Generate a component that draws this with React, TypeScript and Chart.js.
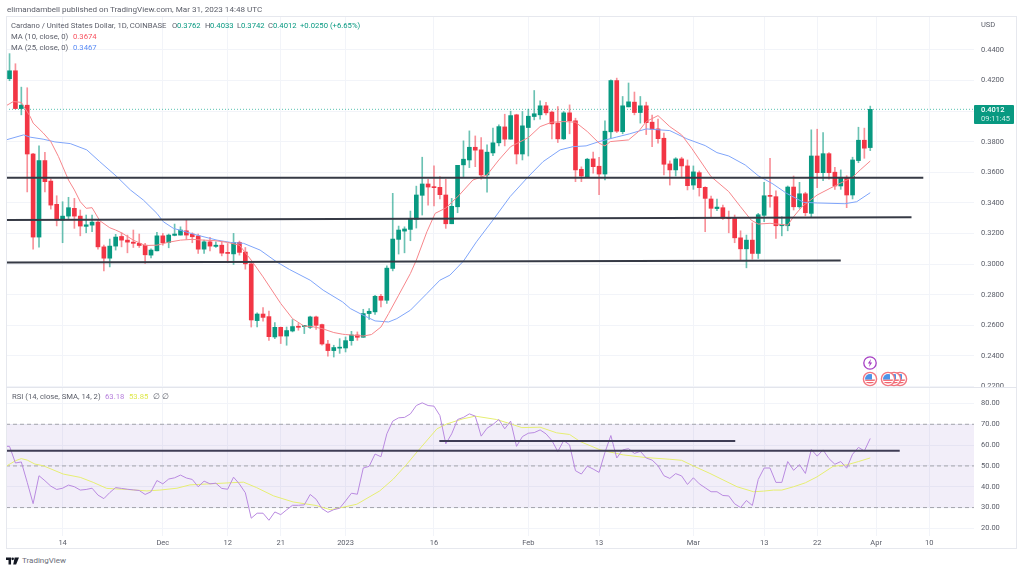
import React, { useEffect, useRef } from "react";
import { Chart, registerables } from "chart.js";

Chart.register(...registerables);

// ---- daily candles, index 0 = 5 Nov 2022, index 146 = 31 Mar 2023 ----
const opens = [.4212,.4264,.4017,.4039,.372,.3177,.3677,.3543,.3391,.3288,.3314,.3365,.3314,.3247,.3255,.3275,.3113,.3039,.3118,.3181,.3157,.3144,.3136,.3124,.3059,.3087,.3185,.3142,.3188,.319,.3218,.3197,.3185,.3098,.3146,.3116,.3124,.3077,.3067,.3142,.3079,.3002,.2631,.2674,.2657,.2524,.2587,.253,.2563,.2594,.2592,.2587,.2655,.2605,.2478,.2435,.2451,.2452,.25,.2537,.2522,.2677,.2688,.279,.2764,.2972,.3162,.3216,.3227,.3293,.345,.3524,.3506,.3502,.3452,.3264,.3375,.3649,.3681,.3764,.3747,.3583,.3727,.3793,.3897,.3817,.3976,.372,.3893,.3965,.3976,.4035,.3994,.3922,.3819,.3989,.3937,.362,.357,.3688,.364,.3589,.3865,.42,.3866,.4028,.4059,.3991,.4035,.3928,.3884,.3823,.3655,.3616,.3688,.3642,.3517,.3598,.3502,.3426,.3363,.3369,.3303,.3303,.3172,.31,.3157,.307,.3319,.3447,.3441,.3251,.3251,.3504,.3375,.346,.3332,.3707,.3598,.3722,.3601,.3511,.3568,.3452,.3677,.381,.3762];
const closes = [.4264,.4017,.4039,.372,.3177,.3677,.3539,.3386,.3288,.3314,.3369,.3314,.3249,.3257,.3275,.3113,.3039,.3118,.3177,.3157,.3144,.3136,.3122,.3061,.3092,.3185,.314,.319,.3197,.3223,.319,.3179,.3098,.3146,.3118,.3124,.3072,.307,.3142,.3077,.3002,.2635,.2674,.2652,.2526,.2587,.253,.2566,.2592,.2587,.2599,.2655,.26,.2478,.2435,.2455,.2457,.25,.2537,.2522,.2677,.2692,.279,.2764,.2974,.3164,.3223,.323,.3295,.3452,.3524,.3504,.35,.3454,.3264,.3378,.3646,.3686,.3764,.3745,.3583,.3732,.3793,.3899,.3817,.3971,.372,.3904,.3967,.3983,.4035,.3989,.3917,.3819,.3989,.3937,.3616,.3576,.3686,.3637,.3589,.3869,.42,.3869,.4035,.4061,.3991,.4035,.3925,.3882,.382,.3653,.3616,.3688,.3642,.3513,.3603,.35,.343,.3365,.3373,.33,.3297,.3172,.31,.3157,.307,.3323,.3447,.3443,.3251,.3257,.3504,.3375,.346,.3336,.3707,.3598,.3722,.3598,.3511,.3568,.3452,.3681,.381,.3758,.4012];
const highs = [.4376,.431,.4157,.4153,.3725,.3773,.3731,.3557,.3447,.3408,.3437,.343,.3354,.3321,.3321,.3293,.3124,.3164,.3195,.3205,.319,.3223,.3197,.3136,.31,.3208,.3201,.3197,.3262,.3244,.3288,.3205,.3197,.3157,.3175,.3146,.3146,.3135,.3201,.3151,.3109,.3009,.2681,.2716,.2694,.2618,.2589,.2589,.2638,.2612,.26,.266,.2661,.2609,.2502,.247,.2513,.2524,.2561,.2557,.2705,.271,.2797,.2803,.2989,.3463,.3249,.3244,.3347,.351,.3699,.3555,.3642,.3572,.3555,.343,.3646,.3806,.3871,.3838,.3827,.378,.3889,.391,.398,.4,.398,.3998,.4013,.4135,.4068,.4057,.4,.403,.3998,.4041,.3954,.3636,.3692,.3732,.3698,.3937,.4205,.4216,.4096,.4184,.4125,.4096,.4059,.3975,.3948,.3856,.3675,.3696,.3699,.3681,.3642,.3609,.3506,.3445,.3426,.3386,.3347,.3321,.3218,.319,.327,.3332,.3535,.3692,.348,.331,.3511,.3576,.3535,.347,.3878,.3882,.386,.3729,.3633,.3616,.3578,.3699,.3895,.3889,.4033];
const lows = [.4199,.4015,.3976,.3472,.3098,.3111,.3472,.336,.325,.314,.3293,.3234,.3185,.3205,.3212,.3098,.2956,.2982,.3092,.3113,.3074,.3109,.3109,.3004,.3041,.3087,.3124,.3107,.3185,.319,.3162,.314,.307,.307,.3087,.3109,.3054,.3009,.2998,.3059,.2967,.2589,.2589,.2627,.2502,.2513,.2481,.247,.2557,.2568,.2546,.2579,.2574,.247,.2399,.2393,.2417,.2426,.247,.2502,.2522,.2638,.2672,.272,.2743,.2956,.3066,.3074,.3153,.3236,.3321,.3386,.338,.3426,.3234,.3264,.3336,.3572,.3631,.3637,.3555,.347,.3709,.3773,.3773,.3817,.3655,.3681,.3707,.3943,.3948,.3976,.3819,.3795,.3815,.3852,.3539,.3539,.357,.3594,.3454,.355,.3823,.386,.3852,.4028,.3976,.3922,.3847,.3768,.379,.3583,.3517,.3576,.3572,.3485,.3489,.3445,.3212,.331,.3349,.3293,.3205,.314,.3026,.2976,.3033,.3037,.3277,.3373,.3168,.3185,.3218,.3354,.3365,.3316,.3306,.35,.3545,.3555,.3489,.3489,.3369,.3426,.3663,.3692,.3742];

const ma10Days = [-0.6,0.65,2,3.5,4,5.7,7,8.3,10,11,12,13,14,15.3,17,18,19,21,23,25,26.8,29,31,33,35,37,39,41,43,46,48,50,51,53,55,56.5,57,60,61.4,63,64.3,66,68,69,70.8,72.2,74,76.3,78.6,81,83,85,88,90,92,94,96,98,100,101,101.9,105,106.7,108,110,112,114,115.7,119,122,124,125.8,127,129,132,133,134.4,137,139.2,141,143,144.3,146];
const ma10Values = [.4035,.4063,.4057,.3965,.3922,.3858,.3801,.3703,.355,.3485,.3408,.3365,.3369,.3284,.3238,.3223,.3205,.3157,.3122,.3124,.3142,.3157,.3162,.3157,.3153,.3142,.3124,.3026,.2917,.2743,.2644,.2594,.2594,.2579,.2553,.2542,.254,.253,.254,.2589,.2677,.2797,.2939,.3026,.3212,.3332,.3367,.3452,.355,.3583,.3681,.3768,.3827,.3899,.3928,.3932,.3928,.3867,.3791,.3773,.3801,.3812,.3867,.3932,.3971,.3899,.3845,.3758,.3572,.3474,.3375,.3288,.3262,.3267,.3255,.331,.3375,.3452,.3496,.353,.3568,.3616,.3674];
const ma25Days = [-0.6,2.4,3.5,5.7,7.7,10.3,13.1,15.3,18.2,20.5,22.7,25,26.1,27.8,31.8,35.2,37.5,39.7,42.5,45.3,47.5,51,53.2,56.5,57.8,60,62,64.3,65.7,68,70.8,73,74.7,77,79.2,82,84.9,88,90.5,93.4,95.6,97.8,100,102.9,105.2,108,112,114.9,118,120,122,124.8,127,129.5,131.8,134.7,137,141.7,143.7,146];
const ma25Values = [.3812,.3845,.383,.3817,.3799,.3788,.3747,.367,.3572,.3485,.3419,.3332,.3277,.3234,.319,.3157,.3142,.3136,.3092,.3015,.2965,.2895,.283,.2753,.271,.2666,.2629,.2622,.2644,.2699,.2808,.2895,.2928,.302,.3146,.3288,.3441,.3572,.367,.3747,.3768,.3773,.3801,.383,.3852,.3884,.3873,.3819,.3775,.3729,.3707,.3648,.3578,.3524,.3463,.3404,.34,.3395,.3408,.3467];

const rsiLead = 59.4;
const rsiValues = [59.4,51.4,51.9,42.1,31.9,45.3,42.9,40.3,38.7,39.3,40.8,40,38.4,38.7,39.3,36,34.3,37.2,39.6,39.2,38.8,38.5,38.2,36.3,37.6,43,41.4,43.7,44.3,45.6,44.2,43.5,40,42.7,41.4,41.7,39.2,38.8,44.6,41.3,37.1,24.9,27.3,27.3,23.9,27.9,26.6,28.9,31.1,31.1,31.3,36.3,34,29.5,27.7,29,29.7,33.2,36.9,36.4,49,49.8,55.7,54.4,65.4,71.5,73.1,73.3,75,79,80.3,79,78.7,74.2,60.6,65.4,72.3,73.3,75,73.9,64.3,68.1,69.9,72.3,67.8,71.5,59.4,64.1,65.7,66,67.3,65.4,62.2,56.9,62.2,60.1,47.7,46.1,49.9,48.5,46.9,56.5,64.6,53.8,57.7,58.3,56,57,53.8,52.8,50.1,45.3,44,46.3,45.2,41.1,44.3,41.4,39.5,37.6,37.6,35.8,35.6,31.8,30,33.4,31,43.5,49,49,42.1,42.1,52.1,47.9,50.6,46.4,57.9,54.7,57.7,53.5,50.8,52.1,48.9,55.6,58.9,57.2,63.18];
const rsiMaDays = [-0.6,1,2,3,4.3,5.7,9.1,12,14.2,16.5,19.9,23.3,25.5,28.4,30.6,33.4,37.4,39.7,41.9,44.8,48.1,52,54.4,56,58.9,62.8,65.1,67.4,69.3,72.5,74.2,76.9,79,82.6,85,86.9,90,92.8,95,96.8,100.2,104.1,108,112,114,116,118.8,123.4,126.2,127.9,129.6,131,133,135,137,139.7,142,144,146];
const rsiMaValues = [49.8,52.5,53.5,52.8,50.9,50.1,46.1,44.5,42.1,39.2,38.7,38,38.4,39.3,40.9,41.3,41.9,42.2,39.6,35.6,32.7,31,29,29.8,31.6,38,43.7,50.9,57.3,67.8,70.2,72.6,73.9,72.3,70.2,68.4,68.6,65.9,65.1,61.7,57.7,55.3,54,53.2,52.7,50,46.4,40,37.6,37.9,38.4,38.4,40,41.9,44.8,49.8,50.5,52.1,53.85];

// ---- hand-drawn trend lines: [start day, end day], [start value, end value] ----
const supportADays = [-0.6, 155];
const supportAValues = [0.3565, 0.3565];
const supportBDays = [-0.6, 153];
const supportBValues = [0.3288, 0.3306];
const supportCDays = [-0.6, 141];
const supportCValues = [0.3011, 0.3024];
const rsiLineADays = [-0.6, 151];
const rsiLineAValues = [57.3, 57.3];
const rsiLineBDays = [72.9, 123.1];
const rsiLineBValues = [62, 62];

const lastPrice = 0.4012;
const dayMin = -0.6;
const dayMax = 163.6;

const tickDays = [9, 26, 37, 46, 57, 72, 88, 100, 116, 128, 137, 147, 156];
const tickLabels = ["14", "Dec", "12", "21", "2023", "16", "Feb", "13", "Mar", "13", "22", "Apr", "10"];
const priceTicks = [0.44, 0.42, 0.40, 0.38, 0.36, 0.34, 0.32, 0.30, 0.28, 0.26, 0.24, 0.22];
const rsiTicks = [80, 70, 60, 50, 40, 30, 20];

const GREEN = "#089981";
const RED = "#f23645";
const GRID = "#f2f4f9";
const AXIS_TEXT = "#5a5d68";
const FONT = "Roboto";
const LINE_DARK = "#363a45";
const LABEL_SIZE = 7.5;

const pts = (xs: number[], ys: number[]) => xs.map((x, i) => ({ x, y: ys[i] }));
const flat = (y: number) => [{ x: dayMin, y }, { x: dayMax, y }];

const lineDs = (data: any[], color: string, width: number, order: number, extra: any = {}) => ({
  type: "line",
  data,
  borderColor: color,
  borderWidth: width,
  pointRadius: 0,
  tension: 0,
  fill: false,
  order,
  ...extra,
});

const xAxis = (showLabels: boolean) => ({
  type: "linear",
  offset: false,
  min: dayMin,
  max: dayMax,
  border: { display: false },
  grid: { color: GRID, drawTicks: false, lineWidth: 1, offset: false },
  afterBuildTicks: (s: any) => { s.ticks = tickDays.map((value) => ({ value })); },
  afterFit: (s: any) => {
    s.height = showLabels ? 14 : 0;
    s.paddingLeft = 0;
    s.paddingRight = 0;
  },
  ticks: {
    display: showLabels,
    autoSkip: false,
    maxRotation: 0,
    minRotation: 0,
    padding: 3,
    color: AXIS_TEXT,
    font: { family: FONT, size: LABEL_SIZE },
    callback: (v: number) => tickLabels[tickDays.indexOf(v)] ?? "",
  },
});

const yAxis = (min: number, max: number, ticks: number[], digits: number) => ({
  type: "linear",
  position: "right",
  min,
  max,
  border: { display: false },
  grid: { color: GRID, drawTicks: false, lineWidth: 1 },
  afterBuildTicks: (s: any) => { s.ticks = ticks.map((value) => ({ value })); },
  afterFit: (s: any) => {
    s.width = 1024 - 974;
    s.paddingTop = 0;
    s.paddingBottom = 0;
  },
  ticks: {
    autoSkip: false,
    padding: 7,
    color: AXIS_TEXT,
    font: { family: FONT, size: LABEL_SIZE },
    callback: (v: number) => v.toFixed(digits),
  },
});

const baseOptions = {
  responsive: false,
  animation: false,
  events: [],
  plugins: { legend: { display: false }, tooltip: { enabled: false } },
};

const Txt = ({ x, y, c = "#5a5d68", s = 7.7, children, w }: any) => (
  <span style={{ position: "absolute", left: x, top: y, color: c, fontSize: s, fontFamily: FONT, lineHeight: "10px", whiteSpace: "nowrap", fontWeight: w }}>
    {children}
  </span>
);

const Flag = ({ x, y }: { x: number; y: number }) => (
  <svg style={{ position: "absolute", left: x - 8, top: y - 8 }} width={16} height={16} viewBox="0 0 16 16">
    <circle cx={8} cy={8} r={6.6} fill="#fff" stroke="#f2767f" strokeWidth={1.4} />
    <clipPath id={`c${x}`}><circle cx={8} cy={8} r={5} /></clipPath>
    <g clipPath={`url(#c${x})`}>
      <rect x={2} y={3} width={12} height={10} fill="#fff" />
      <rect x={2} y={8.5} width={12} height={1.4} fill="#f2626c" />
      <rect x={2} y={11} width={12} height={1.4} fill="#f2626c" />
      <rect x={3} y={3} width={7} height={5.5} fill="#4d94e8" />
    </g>
  </svg>
);

export default function App() {
  const topRef = useRef<HTMLCanvasElement>(null);
  const botRef = useRef<HTMLCanvasElement>(null);

  useEffect(() => {
    const candleColors = opens.map((o, i) => (closes[i] >= o ? GREEN : RED));
    const wickColors = opens.map((o, i) => (closes[i] >= o ? "rgba(8,153,129,0.6)" : "rgba(242,54,69,0.55)"));

    const top = new Chart(topRef.current!, {
      type: "bar",
      data: {
        datasets: [
          lineDs(flat(lastPrice), "#58c2b0", 1, 6, { borderDash: [1, 2] }),
          {
            type: "bar",
            data: opens.map((_, i) => ({ x: i, y: [lows[i], highs[i]] })),
            backgroundColor: wickColors,
            barThickness: 1,
            grouped: false,
            order: 5,
          },
          {
            type: "bar",
            data: opens.map((o, i) => ({ x: i, y: [o, closes[i]] })),
            backgroundColor: candleColors,
            barThickness: 4,
            minBarLength: 1,
            grouped: false,
            order: 4,
          },
          lineDs(pts(ma10Days, ma10Values), "#f7868b", 1, 3),
          lineDs(pts(ma25Days, ma25Values), "#7fa5fa", 1, 3),
          lineDs(pts(supportADays, supportAValues), LINE_DARK, 2, 1),
          lineDs(pts(supportBDays, supportBValues), LINE_DARK, 2, 1),
          lineDs(pts(supportCDays, supportCValues), LINE_DARK, 2, 1),
        ],
      } as any,
      options: {
        ...baseOptions,
        layout: { padding: { left: 6, top: 16, right: 0, bottom: 0 } },
        scales: { x: xAxis(false), y: yAxis(0.2197, 0.4622, priceTicks, 4) },
      } as any,
    });

    const bot = new Chart(botRef.current!, {
      type: "line",
      data: {
        datasets: [
          lineDs(flat(70), "#a3a4ab", 1, 8, { borderDash: [4, 3], fill: { value: 30 }, backgroundColor: "rgba(126,87,194,0.1)" }),
          lineDs(flat(50), "#a3a4ab", 1, 7, { borderDash: [4, 3] }),
          lineDs(flat(30), "#a3a4ab", 1, 7, { borderDash: [4, 3] }),
          lineDs(pts(rsiMaDays, rsiMaValues), "#e6ee72", 1, 4),
          lineDs([{ x: dayMin, y: rsiLead }, ...rsiValues.map((y, x) => ({ x, y }))], "#b98ae0", 1, 3),
          lineDs(pts(rsiLineADays, rsiLineAValues), "#3f3d55", 2, 1),
          lineDs(pts(rsiLineBDays, rsiLineBValues), "#3f3d55", 2, 1),
        ],
      } as any,
      options: {
        ...baseOptions,
        layout: { padding: { left: 6, top: 0, right: 0, bottom: 0 } },
        scales: { x: xAxis(true), y: yAxis(16.35, 87.9, rsiTicks, 2) },
      } as any,
    });

    return () => { top.destroy(); bot.destroy(); };
  }, []);

  return (
    <div style={{ position: "fixed", left: 0, top: 0, width: 1024, height: 572, background: "#fff", overflow: "hidden" }}>
      <canvas ref={topRef} width={1024} height={387} style={{ position: "absolute", left: 0, top: 0 }} />
      <canvas ref={botRef} width={1024} height={163} style={{ position: "absolute", left: 0, top: 387 }} />

      {/* frame */}
      <div style={{ position: "absolute", left: 6, top: 16, width: 1011, height: 533, border: "1px solid #e6e8ee", boxSizing: "border-box" }} />
      <div style={{ position: "absolute", left: 6, top: 387, width: 1011, height: 1, background: "#e3e5ec" }} />

      <Txt x={7} y={4} s={8.1}>elimandambell published on TradingView.com, Mar 31, 2023 14:48 UTC</Txt>
      <Txt x={11} y={21}>Cardano / United States Dollar, 1D, COINBASE</Txt>
      <Txt x={172} y={21}>O</Txt><Txt x={177} y={21} c={GREEN}>0.3762</Txt>
      <Txt x={205} y={21}>H</Txt><Txt x={210} y={21} c={GREEN}>0.4033</Txt>
      <Txt x={237} y={21}>L</Txt><Txt x={241} y={21} c={GREEN}>0.3742</Txt>
      <Txt x={268} y={21}>C</Txt><Txt x={273} y={21} c={GREEN}>0.4012</Txt>
      <Txt x={300} y={21} c={GREEN}>+0.0250 (+6.65%)</Txt>
      <Txt x={11} y={32}>MA (10, close, 0)</Txt><Txt x={73} y={32} c="#f7525f">0.3674</Txt>
      <Txt x={11} y={43}>MA (25, close, 0)</Txt><Txt x={73} y={43} c="#5b8cf5">0.3467</Txt>
      <Txt x={981} y={20} s={7.5}>USD</Txt>

      <Txt x={12} y={392}>RSI (14, close, SMA, 14, 2)</Txt>
      <Txt x={105} y={392} c="#b67fdc">63.18</Txt>
      <Txt x={129} y={392} c="#dfe84e">53.85</Txt>
      <Txt x={153} y={392}>∅</Txt><Txt x={162} y={392}>∅</Txt>

      {/* last price tag */}
      <div style={{ position: "absolute", left: 974, top: 105, width: 40, height: 19, background: GREEN, borderRadius: 1 }} />
      <Txt x={981} y={105} s={7.5} c="#fff" w={500}>0.4012</Txt>
      <Txt x={981} y={114} s={7.5} c="#cfeee8">09:11:45</Txt>

      {/* event markers */}
      <Flag x={899.7} y={379} />
      <Flag x={894} y={379} />
      <Flag x={887.7} y={379} />
      <Flag x={869.7} y={379} />
      <svg style={{ position: "absolute", left: 862, top: 355 }} width={16} height={16} viewBox="0 0 16 16">
        <circle cx={8} cy={8} r={6.2} fill="#fff" stroke="#a63fc4" strokeWidth={1.3} />
        <path d="M9 4 L5.8 8.6 H7.8 L7 12 L10.2 7.4 H8.2 Z" fill="#a63fc4" />
      </svg>

      {/* logo */}
      <svg style={{ position: "absolute", left: 6, top: 557 }} width={13} height={8} viewBox="0 0 36 20">
        <path d="M0 0 H14 V20 H7 V7 H0 Z M24 0 H36 L28 20 H20 Z" fill="#131722" />
        <circle cx={18.5} cy={4} r={3.6} fill="#131722" />
      </svg>
      <Txt x={22} y={556} s={8} c="#6a6d78">TradingView</Txt>
    </div>
  );
}
